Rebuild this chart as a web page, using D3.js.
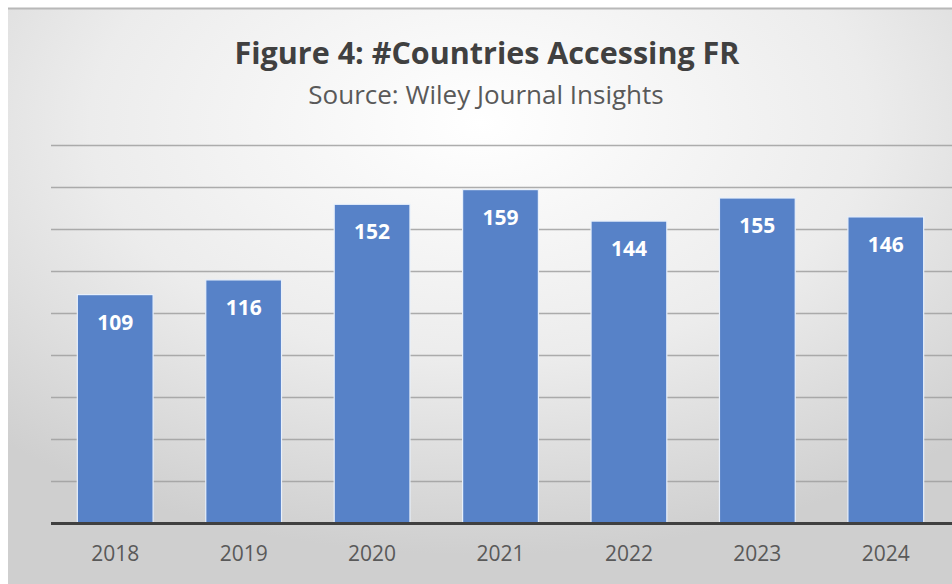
<!DOCTYPE html>
<html><head><meta charset="utf-8">
<script src="https://cdn.jsdelivr.net/npm/d3@7"></script>
<style>body{margin:0;background:#fff;}svg{display:block;}</style>
</head><body>
<svg id="c" width="952" height="584"></svg>
<script>
const years = ["2018","2019","2020","2021","2022","2023","2024"];
const countries = [109,116,152,159,144,155,146];
const yTicks = [0,20,40,60,80,100,120,140,160,180];
const titleText = "Figure 4: #Countries Accessing FR";
const subtitleText = "Source: Wiley Journal Insights";

const svg = d3.select("#c");
const defs = svg.append("defs");
const rg = defs.append("radialGradient").attr("id","bg")
  .attr("cx","50%").attr("cy","20%").attr("r","75%");
rg.append("stop").attr("offset","0%").attr("stop-color","#ffffff");
rg.append("stop").attr("offset","55%").attr("stop-color","#ececec");
rg.append("stop").attr("offset","100%").attr("stop-color","#cfcfcf");

svg.append("rect").attr("x",8).attr("y",8).attr("width",944).attr("height",576).attr("fill","url(#bg)");
svg.append("line").attr("x1",8).attr("x2",952).attr("y1",8.5).attr("y2",8.5).attr("stroke","#b8b8b8").attr("stroke-width",2);

const x = d3.scaleBand().domain(years).range([51,950]).paddingInner(0.41).paddingOuter(0.205);
const y = d3.scaleLinear().domain([0,180]).range([523.5,145.5]);

const grid = svg.append("g");
grid.selectAll("line").data(yTicks.filter(t=>t>0)).join("line")
  .attr("x1",51).attr("x2",952)
  .attr("y1",d=>y(d)).attr("y2",d=>y(d))
  .attr("stroke","#a0a0a0").attr("stroke-width",1.6).attr("opacity",0.85);

svg.append("g").selectAll("rect").data(years).join("rect")
  .attr("x",d=>x(d)).attr("width",x.bandwidth())
  .attr("y",(d,i)=>y(countries[i])).attr("height",(d,i)=>y(0)-y(countries[i]))
  .attr("fill","#5782c8").attr("stroke","#e8f0fb").attr("stroke-width",1.2);

svg.append("line").attr("x1",51).attr("x2",952).attr("y1",y(0)).attr("y2",y(0))
  .attr("stroke","#404040").attr("stroke-width",3);

svg.append("g").selectAll("text").data(years).join("text")
  .attr("x",d=>x(d)+x.bandwidth()/2).attr("y",(d,i)=>y(countries[i])+27)
  .attr("text-anchor","middle").attr("dominant-baseline","central")
  .attr("font-family","'Open Sans', sans-serif").attr("font-weight","bold")
  .attr("font-size",21).attr("fill","#ffffff")
  .text((d,i)=>countries[i]);

const xAxis = d3.axisBottom(x).tickSize(0).tickPadding(0);
const ax = svg.append("g").attr("transform",`translate(0,${y(0)})`).call(xAxis);
ax.select(".domain").remove();
ax.selectAll("text").attr("y",30).attr("dy","0.35em")
  .attr("font-family","'Open Sans', sans-serif").attr("font-size",21).attr("fill","#595959");

svg.append("text").attr("x",487).attr("y",64).attr("text-anchor","middle")
  .attr("font-family","'Open Sans', sans-serif").attr("font-weight","bold")
  .attr("font-size",30.5).attr("fill","#404040").text(titleText);
svg.append("text").attr("x",486).attr("y",104).attr("text-anchor","middle")
  .attr("font-family","'Open Sans', sans-serif")
  .attr("font-size",26).attr("fill","#595959").text(subtitleText);
</script>
</body></html>
